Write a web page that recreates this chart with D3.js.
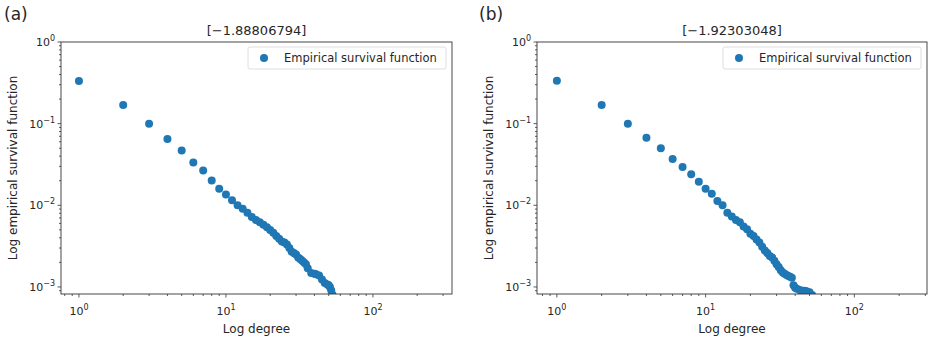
<!DOCTYPE html>
<html>
<head>
<meta charset="utf-8">
<script src="https://cdn.jsdelivr.net/npm/d3@7"></script>
<style>
  body { margin: 0; background: #fff; }
  text { font-family: "DejaVu Sans", sans-serif; fill: #262626; }
</style>
</head>
<body>
<div id="chart"></div>
<script>
// panel (a)
const degreesA = [1, 2, 3, 4, 5, 6, 7, 8, 9, 10, 11, 12, 13, 14, 15, 16, 17, 18, 19, 20,
  21, 22, 23, 24, 25, 26, 27, 28, 29, 30, 31, 32, 33, 34, 35, 36, 38, 40, 41, 43,
  45, 47, 49, 50, 51, 52, 53, 55]
const survivalA = [0.332, 0.169, 0.100, 0.065, 0.047, 0.0335, 0.0266, 0.0201, 0.0160, 0.0136,
  0.0115, 0.0100, 0.0091, 0.0081, 0.0072, 0.0066, 0.0062, 0.0058, 0.0054, 0.0050,
  0.0046, 0.0042, 0.0039, 0.0036, 0.0035, 0.0033, 0.0030, 0.0027, 0.0026, 0.0025,
  0.0023, 0.0022, 0.0021, 0.0020, 0.0019, 0.0017, 0.00148, 0.00145, 0.00143, 0.00138,
  0.00123, 0.00112, 0.00107, 0.00105, 0.0010, 0.00091, 0.00081, 0.0007]

// panel (b)
const degreesB = [1, 2, 3, 4, 5, 6, 7, 8, 9, 10, 11, 12, 13, 14, 15, 16, 17, 18, 19, 20,
  21, 22, 23, 24, 25, 26, 27, 28, 29, 30, 31, 32, 33, 34, 35, 36, 37, 38, 39, 40,
  41, 43, 44, 46, 47, 48, 50, 52, 55]
const survivalB = [0.335, 0.169, 0.100, 0.067, 0.050, 0.037, 0.0295, 0.024, 0.0195, 0.016,
  0.0139, 0.0113, 0.0100, 0.0081, 0.0073, 0.0066, 0.0062, 0.0055, 0.0051, 0.0045,
  0.0042, 0.0038, 0.0035, 0.0031, 0.0028, 0.0026, 0.0024, 0.0023, 0.0021, 0.0019,
  0.00175, 0.0016, 0.00150, 0.00145, 0.00140, 0.00136, 0.00133, 0.00130, 0.00105, 0.00098,
  0.00095, 0.00092, 0.00090, 0.00090, 0.00089, 0.00088, 0.00086, 0.00080, 0.0007]

const panelLabels = ['(a)', '(b)']
const titles = ['[\u22121.88806794]', '[\u22121.92303048]']
const xTickExps = [0, 1, 2]
const yTickExps = [0, -1, -2, -3]
const legendLabel = 'Empirical survival function'
const xLabel = 'Log degree'
const yLabel = 'Log empirical survival function'

const width = 928
const height = 342
const color = '#1f77b4'

const svg = d3.select('#chart').append('svg')
  .attr('width', width)
  .attr('height', height)

const panels = [
  { left: 61, right: 452, xDomain: [0.755, 345], labelX: 4, data: [degreesA, survivalA] },
  { left: 537, right: 927, xDomain: [0.735, 308], labelX: 479, data: [degreesB, survivalB] }
]

const axTop = 42
const axBottom = 294
const yDomain = [0.00082, 1]

function superTick (sel, exp) {
  const t = sel.text('10')
  t.append('tspan')
    .attr('dy', -5)
    .attr('font-size', 8)
    .text(exp < 0 ? '\u2212' + (-exp) : exp)
}

panels.forEach((p, i) => {
  const x = d3.scaleLog().domain(p.xDomain).range([p.left, p.right])
  const y = d3.scaleLog().domain(yDomain).range([axBottom, axTop])
  const g = svg.append('g')

  // panel letter
  g.append('text')
    .attr('x', p.labelX)
    .attr('y', 20)
    .attr('font-size', 17)
    .text(panelLabels[i])

  // title
  g.append('text')
    .attr('x', (p.left + p.right) / 2)
    .attr('y', 35)
    .attr('text-anchor', 'middle')
    .attr('font-size', 13)
    .text(titles[i])

  // clip for the markers
  const clipId = 'clip' + i
  svg.append('clipPath').attr('id', clipId)
    .append('rect')
    .attr('x', p.left).attr('y', axTop)
    .attr('width', p.right - p.left).attr('height', axBottom - axTop)

  // x ticks (major + minor)
  const xMinor = []
  for (let e = -1; e <= 2; e++) {
    for (let m = 2; m <= 9; m++) {
      const v = m * Math.pow(10, e)
      if (v >= p.xDomain[0] && v <= p.xDomain[1]) xMinor.push(v)
    }
  }
  g.selectAll('.xminor').data(xMinor).join('line')
    .attr('x1', d => x(d)).attr('x2', d => x(d))
    .attr('y1', axBottom).attr('y2', axBottom + 2)
    .attr('stroke', '#333').attr('stroke-width', 0.8)
  g.selectAll('.xmajor').data(xTickExps).join('line')
    .attr('x1', d => x(Math.pow(10, d))).attr('x2', d => x(Math.pow(10, d)))
    .attr('y1', axBottom).attr('y2', axBottom + 3.5)
    .attr('stroke', '#333').attr('stroke-width', 0.8)
  g.selectAll('.xlab').data(xTickExps).join('text')
    .attr('x', d => x(Math.pow(10, d)))
    .attr('y', 315)
    .attr('text-anchor', 'middle')
    .attr('font-size', 11)
    .each(function (d) { superTick(d3.select(this), d) })

  // y ticks (major + minor)
  const yMinor = []
  for (let e = -4; e <= 0; e++) {
    for (let m = 2; m <= 9; m++) {
      const v = m * Math.pow(10, e)
      if (v >= yDomain[0] && v <= yDomain[1]) yMinor.push(v)
    }
  }
  g.selectAll('.yminor').data(yMinor).join('line')
    .attr('x1', p.left - 2).attr('x2', p.left)
    .attr('y1', d => y(d)).attr('y2', d => y(d))
    .attr('stroke', '#333').attr('stroke-width', 0.8)
  g.selectAll('.ymajor').data(yTickExps).join('line')
    .attr('x1', p.left - 3.5).attr('x2', p.left)
    .attr('y1', d => y(Math.pow(10, d))).attr('y2', d => y(Math.pow(10, d)))
    .attr('stroke', '#333').attr('stroke-width', 0.8)
  g.selectAll('.ylab').data(yTickExps).join('text')
    .attr('x', p.left - 6)
    .attr('y', d => y(Math.pow(10, d)) + 4)
    .attr('text-anchor', 'end')
    .attr('font-size', 11)
    .each(function (d) { superTick(d3.select(this), d) })

  // markers
  const pts = p.data[0].map((d, k) => [d, p.data[1][k]])
  g.append('g')
    .attr('clip-path', `url(#${clipId})`)
    .selectAll('circle').data(pts).join('circle')
    .attr('cx', d => x(d[0]))
    .attr('cy', d => y(d[1]))
    .attr('r', 4)
    .attr('fill', color)

  // frame
  g.append('rect')
    .attr('x', p.left).attr('y', axTop)
    .attr('width', p.right - p.left).attr('height', axBottom - axTop)
    .attr('fill', 'none')
    .attr('stroke', '#333')
    .attr('stroke-width', 0.9)

  // legend
  const lg = g.append('g')
  lg.append('rect')
    .attr('x', p.right - 204).attr('y', 47)
    .attr('width', 198).attr('height', 22)
    .attr('rx', 2)
    .attr('fill', 'rgba(255,255,255,0.8)')
    .attr('stroke', '#d6d6d6')
    .attr('stroke-width', 0.8)
  lg.append('circle')
    .attr('cx', p.right - 188).attr('cy', 58)
    .attr('r', 4)
    .attr('fill', color)
  lg.append('text')
    .attr('x', p.right - 168).attr('y', 62)
    .attr('font-size', 11.5)
    .text(legendLabel)

  // axis labels
  g.append('text')
    .attr('x', (p.left + p.right) / 2)
    .attr('y', 333)
    .attr('text-anchor', 'middle')
    .attr('font-size', 12)
    .text(xLabel)
  g.append('text')
    .attr('transform', `translate(${p.left - 44}, ${(axTop + axBottom) / 2}) rotate(-90)`)
    .attr('text-anchor', 'middle')
    .attr('font-size', 12)
    .text(yLabel)
})
</script>
</body>
</html>
